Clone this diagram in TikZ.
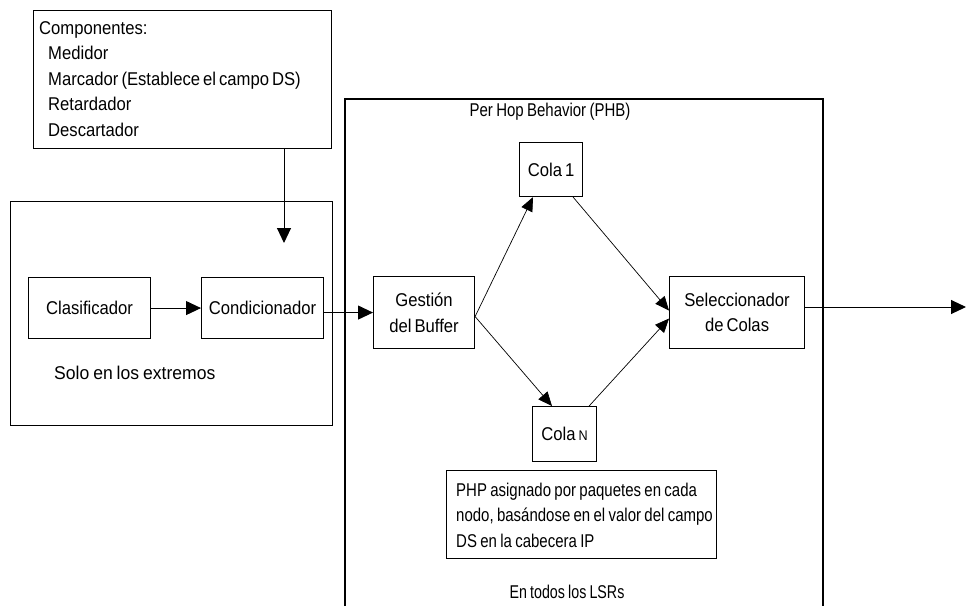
\documentclass[tikz,border=0pt]{standalone}
\usepackage{fontspec}
\setmainfont{Liberation Sans}[FakeStretch=0.90,WordSpace=0.65]
\newfontfamily\narrowfont{Liberation Sans}[FakeStretch=0.81,WordSpace=0.8]
\newfontfamily\narrowerfont{Liberation Sans}[FakeStretch=0.77,WordSpace=0.8]
\newfontfamily\widefont{Liberation Sans}[FakeStretch=0.95,WordSpace=0.8]
\usetikzlibrary{arrows.meta,calc}
\begin{document}
\begin{tikzpicture}[x=1pt,y=-1pt,
  box/.style={draw, line width=1.1pt, inner sep=0pt, anchor=north west},
  txt/.style={font=\fontsize{18.5}{25.5}\selectfont, inner sep=0pt},
  arr/.style={-{Triangle[length=15pt,width=14pt]}, line width=1pt},
  darr/.style={-{Triangle[length=14pt,width=12pt]}, line width=0.7pt}]
\useasboundingbox (0,0) rectangle (966,606);
\fill[white] (0,0) rectangle (966,606);

% boxes
\node[box, minimum width=298pt, minimum height=138pt] (comp) at (33,10) {};
\node[box, minimum width=322pt, minimum height=224pt] (edge) at (10,201) {};
\node[box, minimum width=122pt, minimum height=61pt] (clas) at (28,277) {};
\node[box, minimum width=122pt, minimum height=61pt] (cond) at (201,277) {};
\node[box, minimum width=101pt, minimum height=72pt] (gest) at (373,276) {};
\node[box, minimum width=63pt, minimum height=54pt] (cola1) at (519,142) {};
\node[box, minimum width=64pt, minimum height=55pt] (colaN) at (532,406) {};
\node[box, minimum width=135pt, minimum height=72pt] (sel) at (669,276) {};
\node[box, minimum width=270pt, minimum height=88pt] (php) at (446,470) {};

% open frame of the per-hop part
\draw[line width=1.1pt] (345,606) -- (345,99) -- (823,99) -- (823,606);

% texts
\node[txt, anchor=west, align=left] (comptxt) at (39,79)
  {Componentes:\\\hspace*{9pt}Medidor\\\hspace*{9pt}Marcador (Establece el campo DS)\\\hspace*{9pt}Retardador\\\hspace*{9pt}Descartador};
\node[txt] (clastxt) at (clas.center) {Clasificador};
\node[txt] (condtxt) at (cond.center) {Condicionador};
\node[txt, anchor=west] (solo) at (54,373) {\widefont Solo en los extremos};
\node[txt] (phbtxt) at (550,112) {\narrowfont Per Hop Behavior (PHB)};
\node[txt, align=center] (gesttxt) at (gest.center) {Gestión\\del Buffer};
\node[txt] (cola1txt) at (cola1.center) {Cola 1};
\node[txt] (colaNtxt) at (colaN.center) {Cola {\fontsize{14}{14}\selectfont N}};
\node[txt, align=center] (seltxt) at (sel.center) {Seleccionador\\de Colas};
\node[txt, anchor=west, align=left, font=\fontsize{18.5}{25.5}\narrowfont] (phptxt) at (456,515)
  {PHP asignado por paquetes en cada\\nodo, basándose en el valor del campo\\DS en la cabecera IP};
\node[txt] (lsrs) at (567,592) {\narrowerfont En todos los LSRs};

% connectors
\coordinate (drop) at (284,243);
\coordinate (out) at (966,307);
\draw[arr] (comp.south -| drop) -- (drop);
\draw[arr] (clas.east) -- (cond.west);
\draw[arr] (cond.east |- gest.west) -- (gest.west);
\draw[darr] ([yshift=-4pt]gest.east) -- ([xshift=14pt]cola1.south west);
\draw[darr] ([yshift=-4pt]gest.east) -- ([xshift=20pt]colaN.north west);
\draw[darr] ([xshift=-10pt]cola1.south east) -- ([yshift=2pt]sel.west);
\draw[darr] ([xshift=-8pt]colaN.north east) -- ([yshift=-6pt]sel.west);
\draw[arr] (sel.east |- out) -- (out);
\end{tikzpicture}
\end{document}
